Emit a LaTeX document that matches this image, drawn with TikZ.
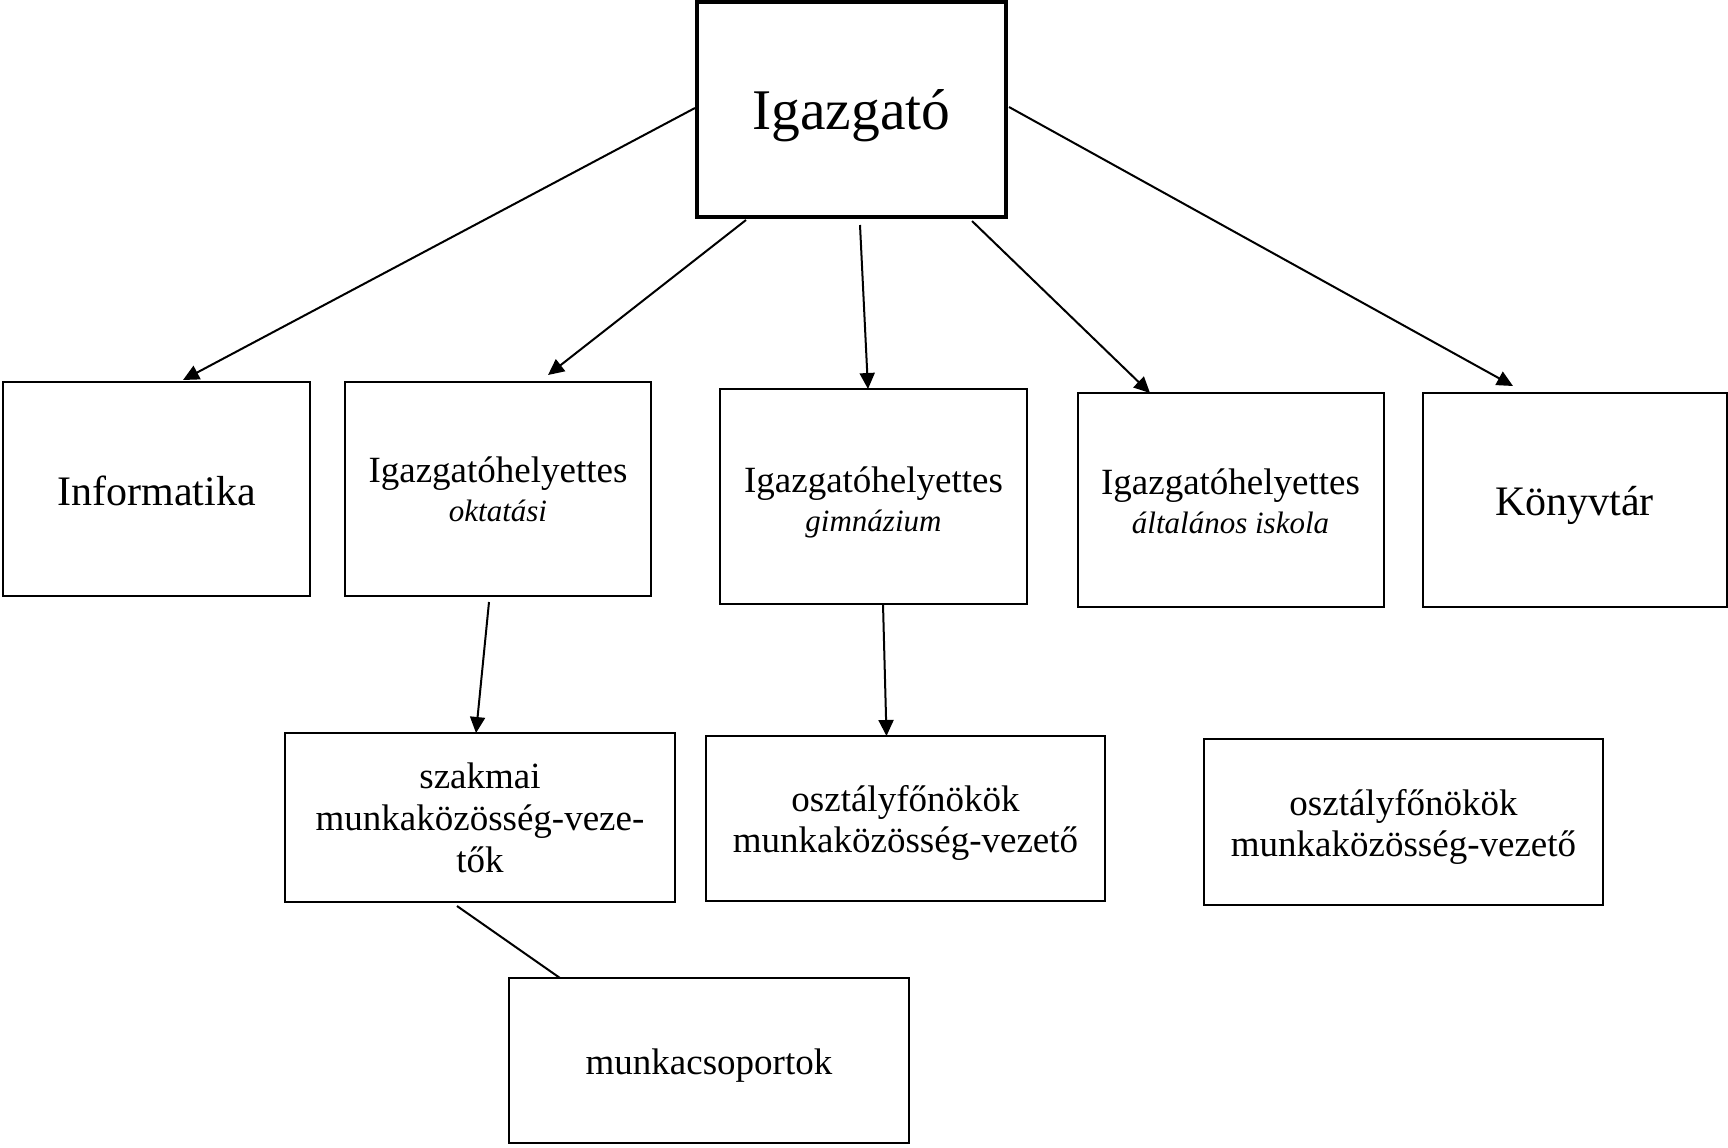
\documentclass[tikz,border=0pt]{standalone}
\usepackage{fontspec}
\setmainfont{Liberation Serif}
\usetikzlibrary{arrows.meta}

\newcommand\txtdown[2]{\raisebox{-#1}[\height][\depth]{#2}}

\begin{document}
\begin{tikzpicture}[
                x = 0.5pt, y = -0.5pt,
                box/.style = {draw, line width = 1pt, inner sep = 0mm, outer sep = 0mm, align = center,
                              font = \fontsize{18.5}{20.5}\selectfont},
                big/.style = {box, font = \fontsize{21}{23}\selectfont},
                boss/.style = {box, line width = 2.3pt, font = \fontsize{28.75}{32}\selectfont},
                arr/.style = {draw, line width = 1pt, -{Triangle[length = 8pt, width = 7.5pt]}},
                ln/.style = {draw, line width = 1pt},
            ]
            \useasboundingbox (0, 0) rectangle (1728, 1147);

            \node (dir) at (851.5, 109.5) [boss, minimum width = 154.5pt, minimum height = 107.5pt]
                {\txtdown{3.3pt}{Igazgató}};

            \node (info) at (156.5, 489) [big, minimum width = 153.5pt, minimum height = 107pt]
                {\txtdown{1pt}{Informatika}};
            \node (okt) at (498, 489) [box, minimum width = 153pt, minimum height = 107pt]
                {Igazgatóhelyettes\\[-1pt]{\fontsize{15.5}{18.5}\selectfont\itshape oktatási}};
            \node (gimn) at (873.5, 496.5) [box, minimum width = 153.5pt, minimum height = 107.5pt]
                {\txtdown{2.75pt}{Igazgatóhelyettes}\\[-1pt]
                 \txtdown{2.75pt}{\fontsize{15.5}{18.5}\selectfont\itshape gimnázium}};
            \node (alt) at (1230.5, 500) [box, minimum width = 153pt, minimum height = 107pt]
                {\txtdown{0.8pt}{Igazgatóhelyettes}\\[-1pt]
                 \txtdown{0.8pt}{\fontsize{15.5}{18.5}\selectfont\itshape általános iskola}};
            \node (konyv) at (1574.5, 500) [big, minimum width = 152pt, minimum height = 107pt]
                {\txtdown{2.75pt}{Könyvtár}};

            \node (szak) at (480, 817.5) [box, minimum width = 195pt, minimum height = 84.5pt]
                {szakmai\\[0.5pt]munkaközösség-veze-\\[0.5pt]tők};
            \node (oszt1) at (905.5, 818.5) [box, minimum width = 199.5pt, minimum height = 82.5pt]
                {\txtdown{2pt}{osztályfőnökök}\\\txtdown{2pt}{munkaközösség-vezető}};
            \node (oszt2) at (1403.5, 822) [box, minimum width = 199.5pt, minimum height = 83pt]
                {\txtdown{2.5pt}{osztályfőnökök}\\\txtdown{2.5pt}{munkaközösség-vezető}};
            \node (munka) at (709, 1060.5) [box, minimum width = 200pt, minimum height = 82.5pt]
                {\txtdown{2.75pt}{munkacsoportok}};

            \path[arr] ([xshift = -1pt, yshift = 0.75pt]dir.west) -- ([xshift = 13.25pt, yshift = 1pt]info.north);
            \path[arr] ([xshift = -52.75pt, yshift = -1.5pt]dir.south) -- ([xshift = 25pt, yshift = 3.5pt]okt.north);
            \path[arr] ([xshift = 4.25pt, yshift = -4pt]dir.south) -- ([xshift = -2.75pt]gimn.north);
            \path[arr] ([xshift = 60.25pt, yshift = -2pt]dir.south) -- ([xshift = -40.25pt]alt.north);
            \path[arr] ([xshift = 1.5pt, yshift = 1.25pt]dir.east) -- ([xshift = -30.75pt, yshift = 3.5pt]konyv.north);

            \path[arr] ([xshift = -4.5pt, yshift = -3pt]okt.south) -- ([xshift = -2pt]szak.north);
            \path[arr] ([xshift = 4.75pt]gimn.south) -- ([xshift = -9.5pt]oszt1.north);
            \path[ln] ([xshift = -11.5pt, yshift = -2pt]szak.south) -- ([xshift = -74.5pt]munka.north);
        \end{tikzpicture}
\end{document}
